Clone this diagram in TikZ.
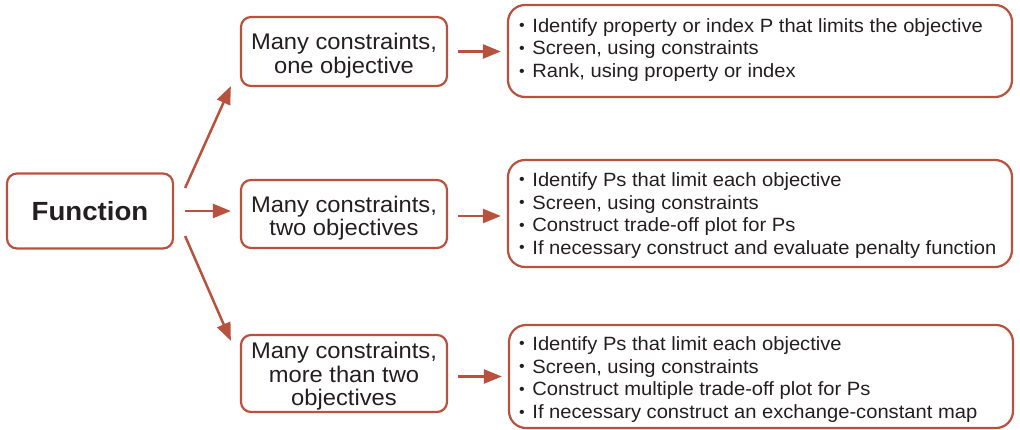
\documentclass[tikz,border=0pt]{standalone}
\usepackage{fontspec}
\setmainfont{Liberation Sans}[FakeStretch=1.05]
\usetikzlibrary{arrows.meta,calc}
\definecolor{rust}{RGB}{184,82,62}
\definecolor{ink}{RGB}{35,31,32}
\newcommand\bul{\raisebox{0.15ex}{\scalebox{0.8}{•}}\hspace{0.4em}}
\begin{document}
\begin{tikzpicture}[x=1pt,y=-1pt,
  box/.style={draw=rust,line width=2.2pt,rounded corners=10pt,inner sep=0pt},
  midbox/.style={box,minimum width=206pt},
  listbox/.style={box,rounded corners=17pt,minimum width=504pt},
  midtext/.style={text=ink,align=center,inner sep=0pt,font=\fontsize{22.6}{23.5}\selectfont},
  listtext/.style={text=ink,align=left,inner sep=0pt,anchor=west,font=\fontsize{19.2}{22.7}\selectfont},
  arr/.style={draw=rust,line width=2.5pt,-{Triangle[length=18pt,width=14pt]}}]
\useasboundingbox (0,0) rectangle (1020,429);
\node[box,minimum width=166pt,minimum height=75pt,text=ink,font=\fontsize{26.3}{28}\selectfont\bfseries] (f) at (90,211) {Function};
\node[midbox,minimum height=69pt] (m1) at (344,51.5) {};
\node[midbox,minimum height=68pt] (m2) at (344,214) {};
\node[midbox,minimum height=77pt] (m3) at (344,373.5) {};
\node[midtext] (m1t) at ([yshift=-4pt]m1.center) {Many constraints,\\one objective};
\node[midtext] (m2t) at ([yshift=-4pt]m2.center) {Many constraints,\\two objectives};
\node[midtext] (m3t) at ([yshift=-3pt]m3.center) {Many constraints,\\more than two\\objectives};
\node[listbox,minimum height=92pt] (r1) at (760,51) {};
\node[listbox,minimum height=107pt] (r2) at (760,213.5) {};
\node[listbox,minimum height=103pt] (r3) at (761,376.5) {};
\node[listtext] (r1t) at ([xshift=12pt,yshift=1pt]r1.west) {\bul Identify property or index P that limits the objective\\\bul Screen, using constraints\\\bul Rank, using property or index};
\node[listtext] (r2t) at ([xshift=12pt,yshift=-2pt]r2.west) {\bul Identify Ps that limit each objective\\\bul Screen, using constraints\\\bul Construct trade-off plot for Ps\\\bul If necessary construct and evaluate penalty function};
\node[listtext] (r3t) at ([xshift=11pt,yshift=-3pt]r3.west) {\bul Identify Ps that limit each objective\\\bul Screen, using constraints\\\bul Construct multiple trade-off plot for Ps\\\bul If necessary construct an exchange-constant map};
\draw[arr] ([xshift=11pt,yshift=23pt]f.east) -- ([xshift=-9pt,yshift=1pt]m1.south west);
\draw[arr] ([xshift=11pt]f.east) -- ([xshift=-9pt]f.east -| m2.west);
\draw[arr] ([xshift=11pt,yshift=-25pt]f.east) -- ([xshift=-9pt,yshift=-7pt]m3.north west);
\draw[arr] ([xshift=10pt]m1.east) -- ([xshift=-6pt]m1.east -| r1.west);
\draw[arr] ([xshift=10pt,yshift=-2pt]m2.east) -- ([xshift=-6pt,yshift=-2pt]m2.east -| r2.west);
\draw[arr] ([xshift=10pt,yshift=-3pt]m3.east) -- ([xshift=-6pt,yshift=-3pt]m3.east -| r3.west);
\end{tikzpicture}
\end{document}
